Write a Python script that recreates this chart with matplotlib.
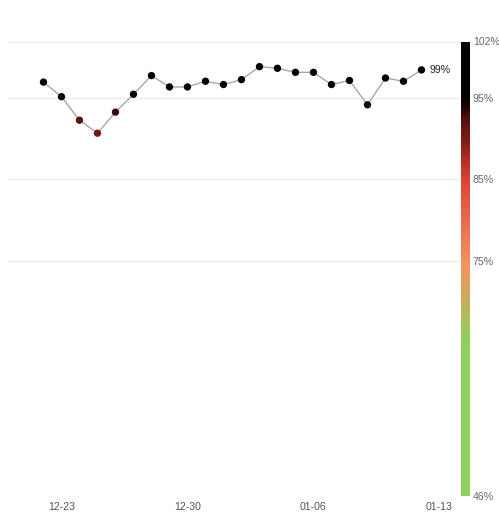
import numpy as np
import pandas as pd
import matplotlib.pyplot as plt
import matplotlib.dates as mdates
from matplotlib.colors import LinearSegmentedColormap

plt.rcParams['font.family'] = ['Liberation Sans', 'DejaVu Sans']

dates = pd.date_range('2023-12-22', '2024-01-12', freq='D')
values = [97.0, 95.2, 92.3, 90.7, 93.3, 95.5, 97.8, 96.4, 96.4, 97.1, 96.7,
          97.3, 98.9, 98.7, 98.2, 98.2, 96.7, 97.2, 94.2, 97.5, 97.1, 98.5]
last_label = '99%'
tick_dates = pd.to_datetime(['2023-12-23', '2023-12-30', '2024-01-06', '2024-01-13'])
tick_labels = ['12-23', '12-30', '01-06', '01-13']
scale_ticks = [46, 75, 85, 95, 102]
vmin, vmax = 46, 102

# colour scale stops (value, colour)
stops = [(46, '#8fd05f'), (65, '#8fd05f'), (67, '#a6c65a'), (70, '#c8ac5c'),
         (73, '#e89e60'), (75, '#f4905e'), (80, '#ea6a4c'), (85, '#dd4236'),
         (88, '#a82a22'), (90, '#7e1d16'), (92.5, '#561310'), (94, '#1e0606'),
         (95, '#0c0303'), (95.5, '#000000'), (102, '#000000')]
cmap = LinearSegmentedColormap.from_list(
    'score', [((v - vmin) / (vmax - vmin), c) for v, c in stops])

W, H = 499, 514
fig = plt.figure(figsize=(W / 100, H / 100), dpi=100)
ax = fig.add_axes([8 / W, 18 / H, 452 / W, 454.5 / H])
cax = fig.add_axes([461 / W, 18 / H, 9 / W, 454.5 / H])

x = mdates.date2num(dates)
ax.plot(x, values, color='#a8a8a8', lw=1.0, zorder=2)
ax.scatter(x, values, c=values, cmap=cmap, vmin=vmin, vmax=vmax, s=28,
           edgecolors='none', zorder=3)
ax.text(x[-1] + 0.45, values[-1], last_label, fontsize=7.6, color='#222222',
        va='center', ha='left')

for v in scale_ticks:
    ax.axhline(v, color='#ebebeb', lw=1, zorder=1)

ax.set_ylim(vmin, vmax)
ax.set_xlim(x[0] - 1.97, x[0] + 23.14)
ax.set_xticks(mdates.date2num(tick_dates))
ax.set_xticklabels(tick_labels)
ax.set_yticks([])
ax.tick_params(axis='x', length=0, labelsize=7.6, labelcolor='#555555', pad=4)
for s in ax.spines.values():
    s.set_visible(False)

# colour bar
grad = np.linspace(vmin, vmax, 150).reshape(-1, 1)
cax.imshow(grad, cmap=cmap, vmin=vmin, vmax=vmax, aspect='auto', origin='lower',
           extent=[0, 1, vmin, vmax], interpolation='nearest')
cax.set_xticks([])
cax.set_ylim(vmin, vmax)
cax.yaxis.tick_right()
cax.set_yticks(scale_ticks)
cax.set_yticklabels([f'{v}%' for v in scale_ticks])
cax.tick_params(axis='y', length=0, labelsize=7.6, labelcolor='#666666', pad=2)
for s in cax.spines.values():
    s.set_visible(False)

plt.savefig('out.png', dpi=100)
